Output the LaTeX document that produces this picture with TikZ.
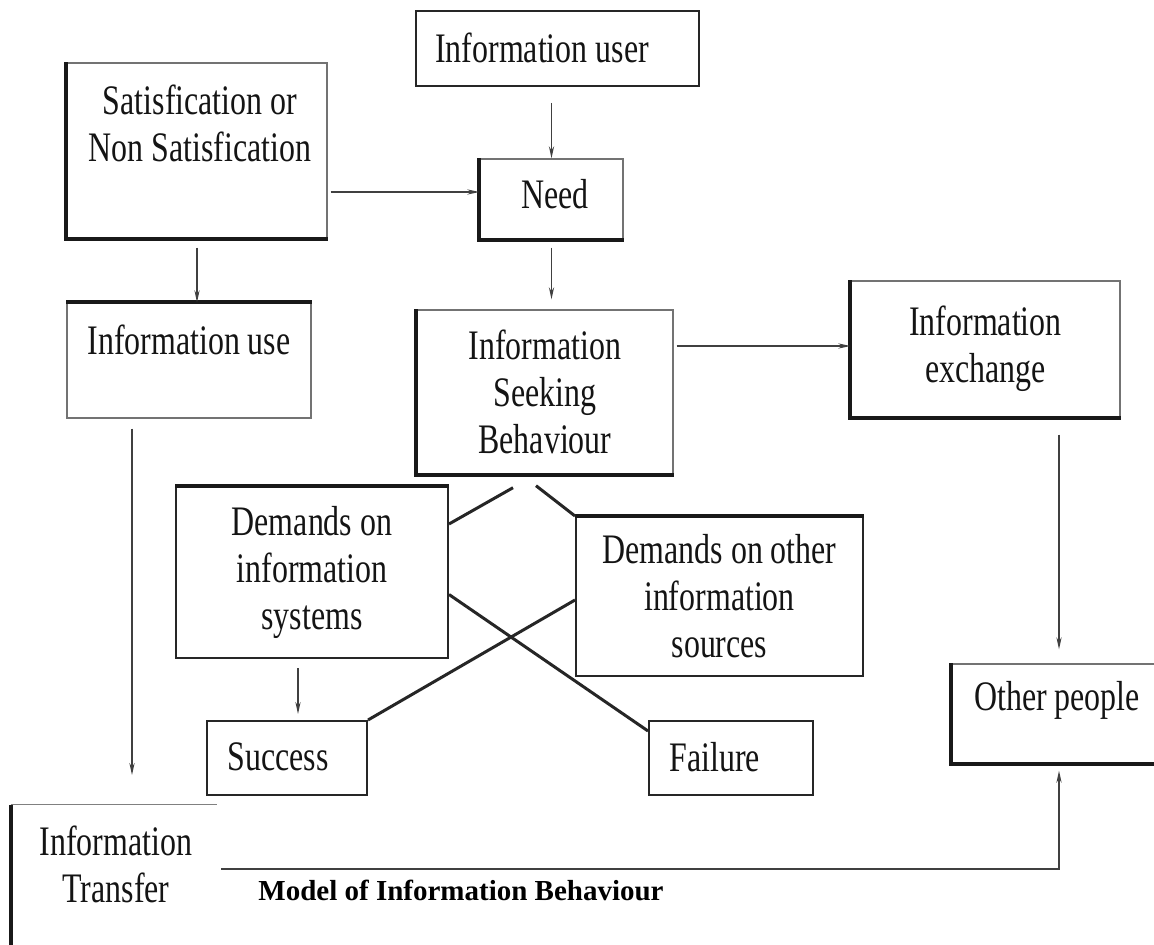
\documentclass[tikz,border=0pt]{standalone}
\usepackage{fontspec}
\setmainfont{Liberation Serif}[FakeStretch=0.76]
\newfontfamily\capfont{Liberation Serif}
\usetikzlibrary{arrows.meta}
\tikzset{
	box/.style={draw=black!55, line width=0.7pt, inner sep=0pt},
	plainbox/.style={draw=black!85, line width=1pt, inner sep=0pt},
	edge/.style={line width=2pt, black!90},
	lbl/.style={font=\fontsize{21}{23.5}\selectfont, align=center, inner sep=0pt, text=black!92},
	arr/.style={-{Stealth[length=6pt,width=2.6pt]}, line width=0.6pt, black!75},
	cross/.style={line width=1.5pt, black!85}
}
\newcommand{\leftbottom}[1]{\draw[edge] (#1.north west) |- (#1.south east);}
\newcommand{\topedge}[1]{\draw[edge] (#1.north west) -- (#1.north east);}
\begin{document}
\begin{tikzpicture}[x=0.5pt, y=-0.5pt]
	\useasboundingbox (0,0) rectangle (1154,945);
	\clip (0,0) rectangle (1154,945);
	\node[plainbox, minimum width=141.5pt, minimum height=37.5pt] (user) at (557.5,48.5) {};
	\node[box, minimum width=71.5pt, minimum height=40pt] (need) at (551.5,199) {};
	\node[box, minimum width=130pt, minimum height=87.5pt] (satis) at (197,150.5) {};
	\node[box, minimum width=122pt, minimum height=57.5pt] (use) at (189,360.5) {};
	\node[box, lbl, minimum width=128pt, minimum height=82pt] (isb) at (545,392) {Information\\Seeking\\Behaviour};
	\node[box, lbl, minimum width=134.5pt, minimum height=68pt] (exch) at (985.5,349) {Information\\exchange};
	\node[plainbox, lbl, minimum width=136pt, minimum height=85.5pt] (dinfo) at (312,572.5) {Demands on\\information\\systems};
	\node[plainbox, lbl, minimum width=143.5pt, minimum height=79.5pt] (dother) at (719.5,596.5) {Demands on other\\information\\sources};
	\node[plainbox, minimum width=80pt, minimum height=37pt] (succ) at (287,758) {};
	\node[plainbox, minimum width=82pt, minimum height=37pt] (fail) at (731,758) {};
	\node[box, minimum width=107pt, minimum height=49.5pt] (other) at (1059,713.5) {};
	\node[inner sep=0pt, minimum width=103pt, minimum height=72pt] (trans) at (114,877) {};

	\node[lbl] (userText) at (542,48) {Information user};
	\node[lbl] (needText) at (555,194) {Need};
	\node[lbl] (satisText) at (200,123.5) {Satisfication or\\Non Satisfication};
	\node[lbl] (useText) at (189,340) {Information use};
	\node[lbl, anchor=west] (succText) at (227,757) {Success};
	\node[lbl, anchor=west] (failText) at (669,757) {Failure};
	\node[lbl] (otherText) at (1057,700) {Other people};
	\node[lbl] (transText) at (116,864) {Information\\Transfer};
	\node[font={\capfont\bfseries\fontsize{14.5}{17}\selectfont}, inner sep=0pt] (caption) at (461,890) {Model of Information Behaviour};

	\leftbottom{need}
	\leftbottom{satis}
	\leftbottom{isb}
	\leftbottom{exch}
	\leftbottom{other}
	\topedge{use}
	\topedge{dinfo}
	\topedge{dother}
	\draw[black!50, line width=0.6pt] (trans.north west) -- (trans.north east);
	\draw[edge] (trans.north west) -- (trans.south west);

	\coordinate (needIn) at ([yshift=3.5pt]need.west);
	\coordinate (exchIn) at ([yshift=1.5pt]exch.west);
	\coordinate (useDrop) at (132,775);
	\coordinate (dinfoOut) at ([xshift=-7pt]dinfo.south);
	\draw[arr, shorten <=8pt] (user.south -| need.north) -- (need.north);
	\draw[arr, shorten <=4pt, shorten >=5pt] (need.south) -- (need.south |- isb.north);
	\draw[arr, shorten <=1.5pt] (satis.east |- needIn) -- (needIn);
	\draw[arr, shorten <=4.5pt] (satis.south) -- (satis.south |- use.north);
	\draw[arr, shorten <=5pt] (use.south -| useDrop) -- (useDrop);
	\draw[arr, shorten <=1.5pt] (isb.east |- exchIn) -- (exchIn);
	\draw[arr, shorten <=8.5pt, shorten >=7pt] (exch.south -| other.north) -- (other.north);
	\draw[arr, shorten <=4.5pt, shorten >=3pt] (dinfoOut) -- (dinfoOut |- succ.north);
	\draw[cross] ([xshift=-16pt,yshift=-6.5pt]isb.south) -- ([yshift=-19pt]dinfo.north east);
	\draw[cross] ([xshift=-4.5pt,yshift=-5.5pt]isb.south) -- (dother.north west);
	\draw[cross] ([yshift=-11pt]dinfo.east) -- ([yshift=-5.5pt]fail.north west);
	\draw[cross] (succ.north east) -- ([yshift=-1.75pt]dother.west);
	\draw[arr, line width=0.8pt] ([xshift=2pt,yshift=4pt]trans.east) -| ([yshift=-3.5pt]other.south);
\end{tikzpicture}
\end{document}
